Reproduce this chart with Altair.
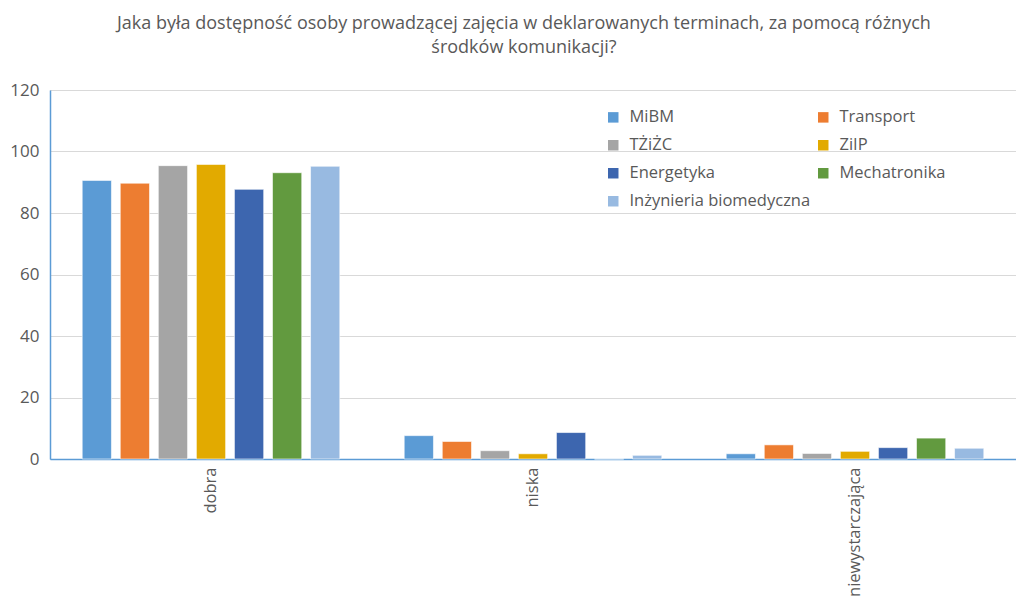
import altair as alt
import pandas as pd

categories = ["dobra", "niska", "niewystarczająca"]
series = ["MiBM", "Transport", "TŻiŻC", "ZiIP", "Energetyka", "Mechatronika", "Inżynieria biomedyczna"]
colors = ["#5B9BD5", "#ED7D31", "#A5A5A5", "#E2AA00", "#3D66AF", "#629A3F", "#98BAE1"]

values = {
    "MiBM":                   [90.6, 7.6, 1.7],
    "Transport":              [89.7, 5.7, 4.6],
    "TŻiŻC":                  [95.4, 2.7, 1.8],
    "ZiIP":                   [95.8, 1.7, 2.5],
    "Energetyka":             [87.7, 8.6, 3.7],
    "Mechatronika":           [93.1, 0.0, 6.8],
    "Inżynieria biomedyczna": [95.2, 1.2, 3.5],
}

rows = []
for s in series:
    for c, v in zip(categories, values[s]):
        rows.append({"kategoria": c, "kierunek": s, "wartosc": v})
df = pd.DataFrame(rows)

FONT = "Open Sans"
GRAY = "#595959"

chart = alt.Chart(df).mark_bar(stroke="white", strokeWidth=0.6).encode(
    x=alt.X("kategoria:N", sort=categories,
            scale=alt.Scale(paddingInner=0, paddingOuter=0),
            axis=alt.Axis(title=None, labelAngle=-90, labelFontSize=16.5, labelColor=GRAY,
                          labelFont=FONT, ticks=False, domainColor="#5B9BD5", domainWidth=1.5,
                          labelPadding=8)),
    xOffset=alt.XOffset("kierunek:N", sort=series,
                        scale=alt.Scale(paddingInner=0.2308, paddingOuter=0.846)),
    y=alt.Y("wartosc:Q", scale=alt.Scale(domain=[0, 120]),
            axis=alt.Axis(title=None, values=[0, 20, 40, 60, 80, 100, 120], labelFontSize=17,
                          labelColor=GRAY, labelFont=FONT, ticks=False, labelPadding=11,
                          domainColor="#5B9BD5", domainWidth=1.5,
                          gridColor="#D9D9D9", gridWidth=1.2)),
    color=alt.Color("kierunek:N", sort=series,
                    scale=alt.Scale(domain=series, range=colors),
                    legend=alt.Legend(title=None, orient="none", legendX=555, legendY=19,
                                      direction="horizontal",
                                      columns=2, columnPadding=4, rowPadding=11,
                                      symbolType="square", symbolSize=110, symbolStrokeWidth=0,
                                      labelFontSize=16.5, labelColor=GRAY, labelFont=FONT,
                                      labelOffset=8, labelLimit=300)),
).properties(
    width=966,
    height=369,
    title=alt.TitleParams(
        ["Jaka była dostępność osoby prowadzącej zajęcia w deklarowanych terminach, za pomocą różnych",
         "środków komunikacji?"],
        fontSize=18, font=FONT, color=GRAY, fontWeight="normal", anchor="middle",
        frame="bounds", offset=24, lineHeight=24, dx=11),
).configure_view(stroke=None).configure(padding={"left": 1, "top": 7, "right": 0, "bottom": 0})

chart.save("out.html", embed_options={"renderer": "svg", "actions": False})
